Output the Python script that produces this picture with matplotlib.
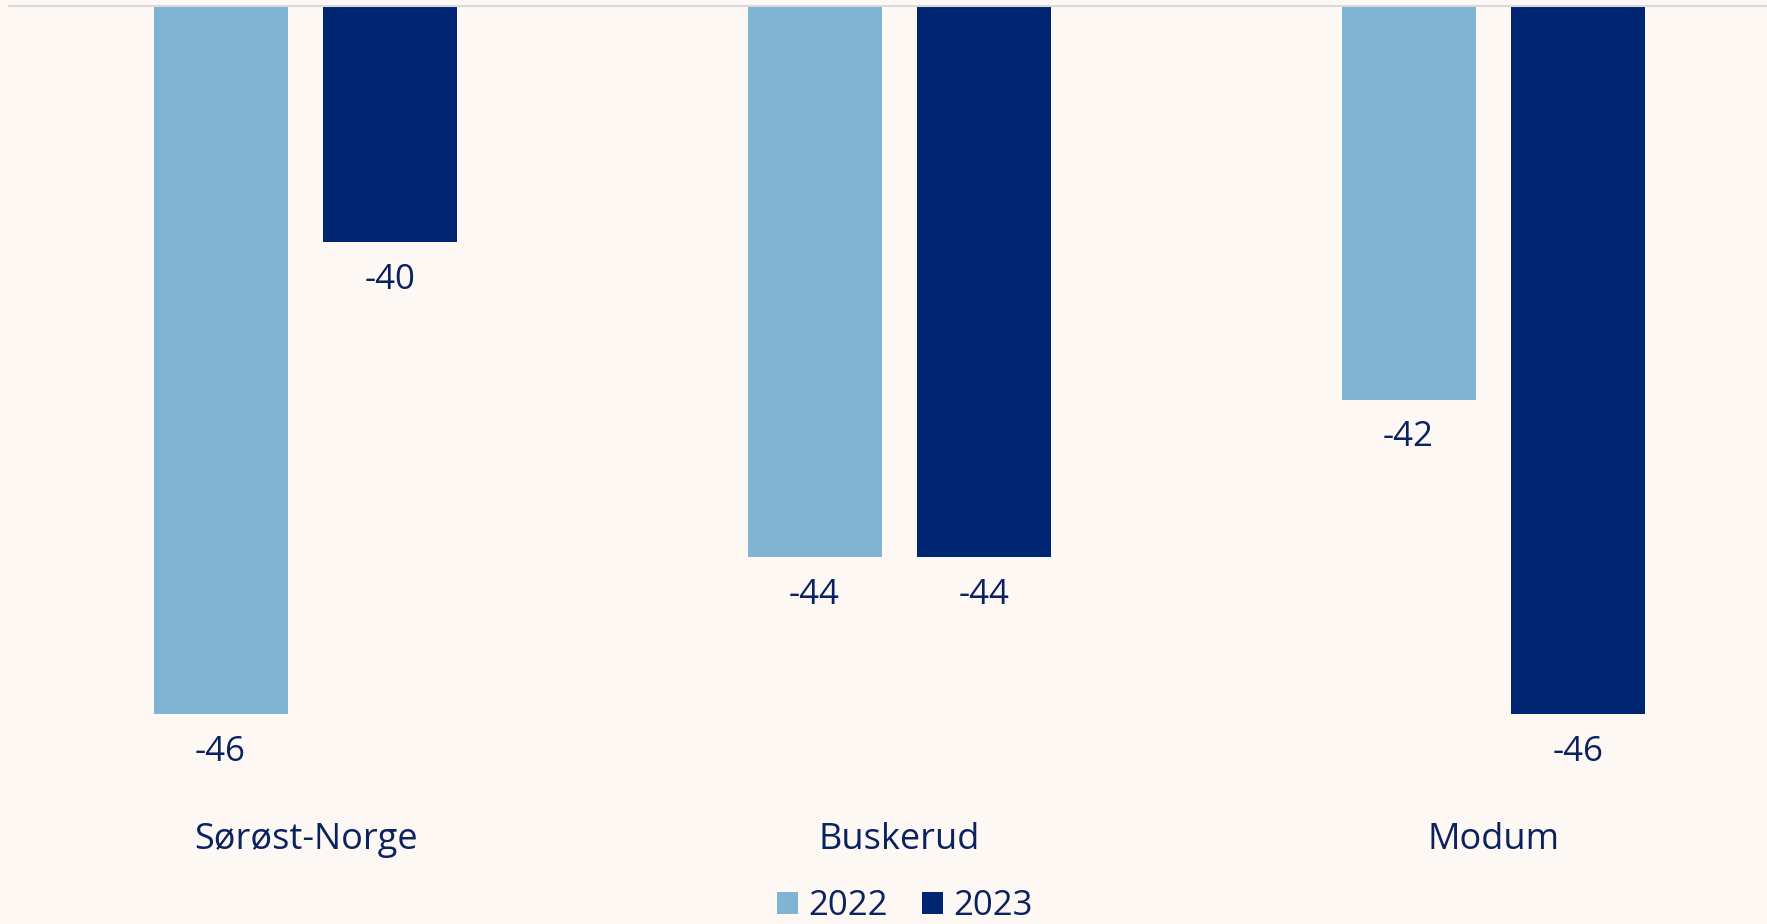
import matplotlib.pyplot as plt
import numpy as np

categories = ['Sørøst-Norge', 'Buskerud', 'Modum']
years = ['2022', '2023']
values_2022 = [-46, -44, -42]
values_2023 = [-40, -44, -46]

bg = '#fdf8f4'
text_color = '#0b2261'
colors = ['#7fb4d3', '#002673']

plt.rcParams['font.family'] = ['Open Sans', 'DejaVu Sans']

W, H = 1767, 924
fig = plt.figure(figsize=(W / 100, H / 100), dpi=100, facecolor=bg)
# axis spans from x=8.5px; category slot = 594px, so the right part is cropped
left = 8.5 / W
ax = fig.add_axes([left, 1 - 790 / H, 1 - left, (790 - 6) / H])
ax.set_facecolor(bg)

x = np.arange(len(categories))
width = 0.2256
off = 0.143
b1 = ax.bar(x - off, values_2022, width, color=colors[0], label=years[0])
b2 = ax.bar(x + off, values_2023, width, color=colors[1], label=years[1])

ax.set_ylim(-46.96, -37)
ax.set_xlim(-0.5, 2 + (W - 1493.5) / 594)

for bars, vals in [(b1, values_2022), (b2, values_2023)]:
    for rect, v in zip(bars, vals):
        ax.annotate(f'{v}', (rect.get_x() + rect.get_width() / 2, v),
                    xytext=(0, -27), textcoords='offset points',
                    ha='center', va='center', fontsize=25, color=text_color)

ax.set_xticks(x)
ax.set_xticklabels(categories, fontsize=26, color=text_color)
ax.tick_params(axis='x', length=0, pad=23)
ax.set_yticks([])

for s in ['left', 'right', 'bottom']:
    ax.spines[s].set_visible(False)
ax.spines['top'].set_color('#d9d9d9')
ax.spines['top'].set_linewidth(1.5)

leg = fig.legend(handles=[b1, b2], labels=years, loc='center',
                 bbox_to_anchor=(905 / W, 1 - 906 / H), ncol=2, frameon=False,
                 fontsize=25, handlelength=0.6, handleheight=0.6,
                 handletextpad=0.3, columnspacing=1.0)
for t in leg.get_texts():
    t.set_color(text_color)

fig.savefig('out.png', dpi=100, facecolor=bg)
